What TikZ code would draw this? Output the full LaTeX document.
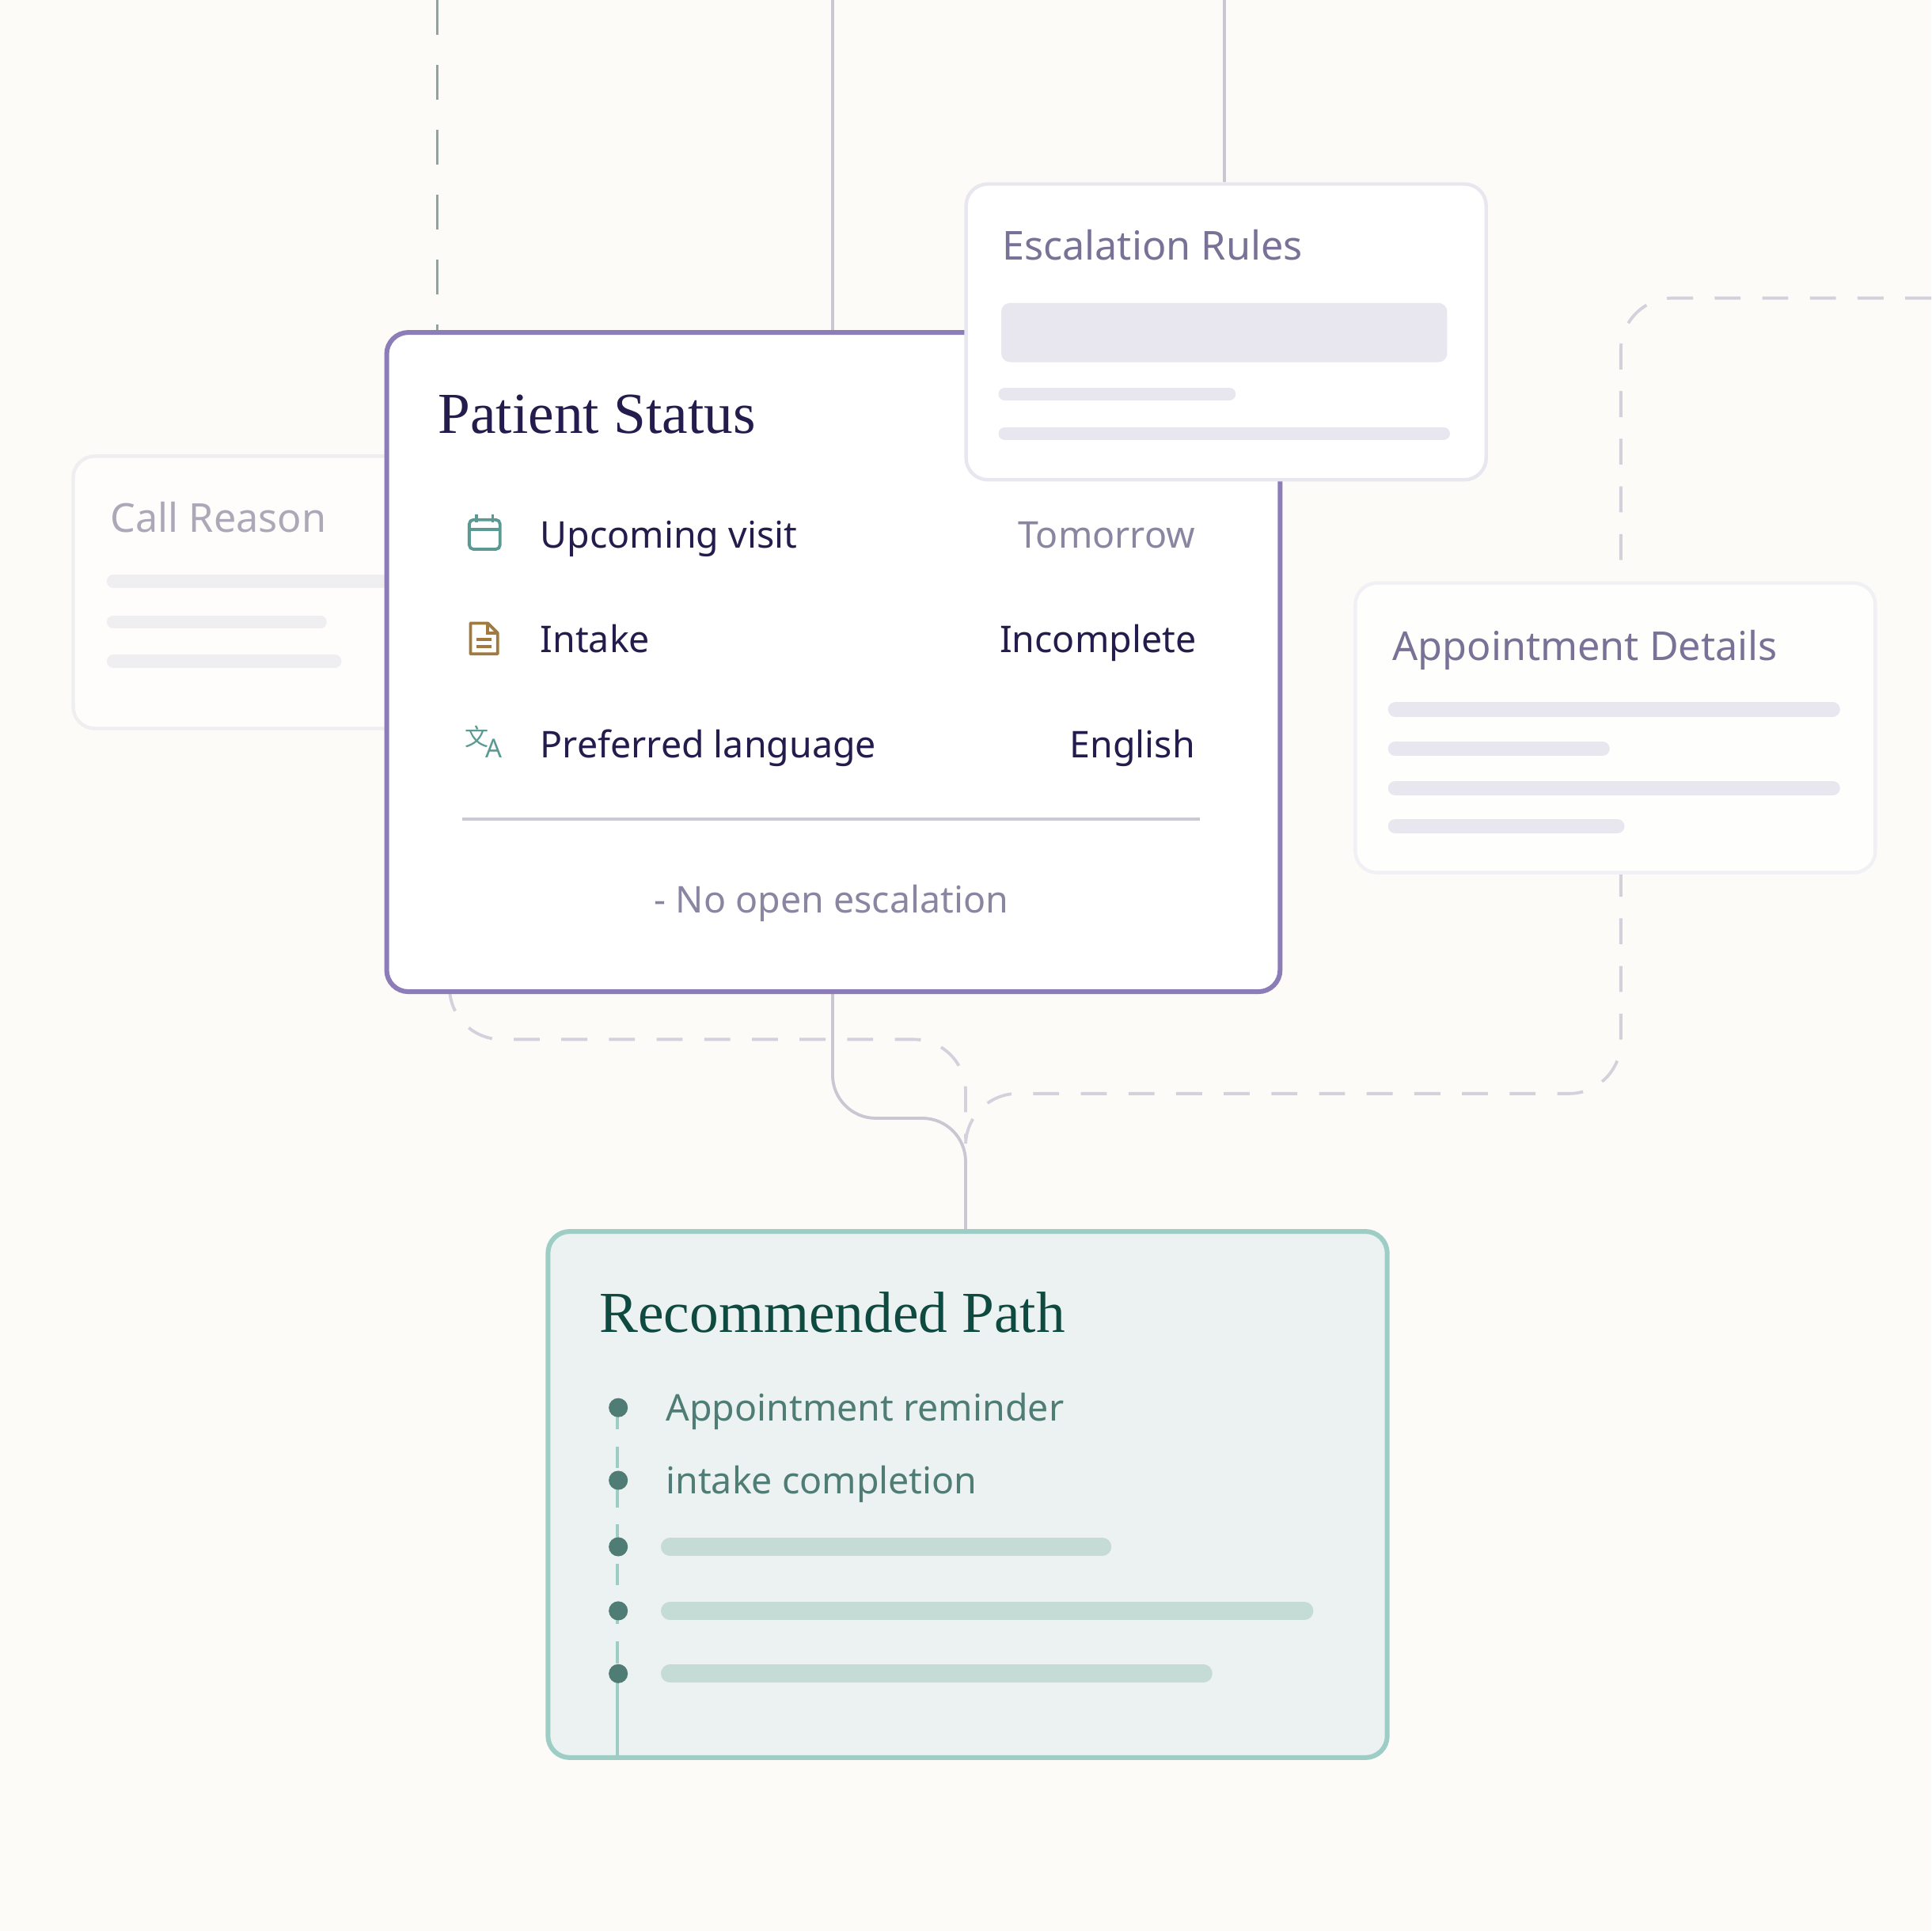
\documentclass[tikz,border=0pt]{standalone}
\usepackage{fontspec}
\setmainfont{Noto Sans}
\newfontfamily\titlefont{Liberation Serif}
\newfontfamily\cjkfont{Noto Sans CJK SC}
\usetikzlibrary{positioning}

\definecolor{bgcol}{HTML}{FCFBF8}
\definecolor{navy}{HTML}{231C4D}
\definecolor{lavtext}{HTML}{7A7197}
\definecolor{greytext}{HTML}{8A85A0}
\definecolor{fadetext}{HTML}{ACA8B8}
\definecolor{barcol}{HTML}{E8E6EE}
\definecolor{fadebar}{HTML}{EFEEF0}
\definecolor{purpleline}{HTML}{8C7DB8}
\definecolor{linkcol}{HTML}{C9C7D2}
\definecolor{dashcol}{HTML}{D3D1DC}
\definecolor{greendash}{HTML}{8FA39F}
\definecolor{pathfill}{HTML}{EBF2F1}
\definecolor{pathline}{HTML}{9ECDC5}
\definecolor{pathtext}{HTML}{4F7C74}
\definecolor{pathtitle}{HTML}{0F4A40}
\definecolor{pathbar}{HTML}{C5DBD6}
\definecolor{iconteal}{HTML}{5B9A93}
\definecolor{iconbrown}{HTML}{A07A3E}

\tikzset{
  card/.style={draw=barcol, fill=white, rounded corners=5pt, line width=0.8pt,
               anchor=north west, inner sep=0pt},
  fadecard/.style={card, draw=fadebar, fill=white!60!bgcol},
  cardtitle/.style={anchor=base west, inner sep=0pt, text=lavtext, font=\fontsize{9.2}{11}\selectfont},
  rowtext/.style={anchor=base west, inner sep=0pt, text=navy, font=\fontsize{8.5}{10}\selectfont},
  rowval/.style={anchor=base east, inner sep=0pt, text=navy, font=\fontsize{8.5}{10}\selectfont},
  bar/.style={line cap=round, line width=#1, draw=barcol},
  link/.style={draw=linkcol, line width=0.7pt, rounded corners=10pt},
  dlink/.style={draw=dashcol, line width=0.7pt, dash pattern=on 6pt off 5pt, rounded corners=12pt},
  dot/.style={circle, fill=pathtext, minimum size=4.4pt, inner sep=0pt},
}

\begin{document}
\begin{tikzpicture}[x=0.01cm, y=-0.01cm]
  \fill[bgcol] (0,0) rectangle (1568,1568);
  \useasboundingbox (0,0) rectangle (1568,1568);

  % top links
  \coordinate (t1) at (355,0);
  \coordinate (t2) at (676,0);
  \coordinate (t3) at (994,0);
  \coordinate (r1) at (1568,242);

  % call reason card (behind)
  \node[fadecard, minimum width=2.72cm, minimum height=2.21cm] (call) at (58,369) {};
  \node[cardtitle, text=fadetext] (callt) at (89,432) {Call Reason};
  \draw[bar=3pt, draw=fadebar] (92,472) -- (310,472);
  \draw[bar=3pt, draw=fadebar] (92,505) -- (260,505);
  \draw[bar=3pt, draw=fadebar] (92,537) -- (272,537);

  % connectors behind cards
  \draw[draw=greendash, line width=0.7pt, dash pattern=on 8pt off 7pt] (t1) -- (355,268);
  \draw[link] (t2) -- (676,268);
  \draw[link] (t3) -- (994,148);
  \draw[dlink] (r1) -- (1316,242) -- (1316,472);
  \draw[dlink] (1316,707) -- (1316,888) -- (784,888) -- (784,925);
  \draw[dlink] (365,803) -- (365,844) -- (784,844) -- (784,925);
  \draw[link] (676,803) -- (676,908) -- (784,908) -- (784,998);

  % patient status card
  \node[card, draw=purpleline, line width=1.1pt, minimum width=7.25cm, minimum height=5.35cm] (pat) at (312,268) {};
  \node[anchor=base west, inner sep=0pt, text=navy, font=\titlefont\fontsize{13.4}{15}\selectfont] (patt) at (355,352) {Patient Status};

  % rows
  \draw[iconteal, line width=0.7pt, rounded corners=1pt] (381,422) rectangle (406,446);
  \draw[iconteal, line width=0.7pt] (381,430) -- (406,430) (387,418) -- (387,424) (400,418) -- (400,424);
  \node[rowtext] (r1t) at (438,445) {Upcoming visit};
  \node[rowval, text=greytext] (r1v) at (971,445) {Tomorrow};

  \draw[iconbrown, line width=0.7pt, line join=round] (382,506) -- (396,506) -- (404,514) -- (404,531) -- (382,531) -- cycle;
  \draw[iconbrown, line width=0.7pt] (396,506) -- (396,514) -- (404,514) (387,519) -- (399,519) (387,525) -- (399,525);
  \node[rowtext] (r2t) at (438,530) {Intake};
  \node[rowval] (r2v) at (972,530) {Incomplete};

  \node[text=iconteal, font=\cjkfont\fontsize{5.5}{6}\selectfont, inner sep=0pt] (ic3a) at (387,598) {文};
  \node[text=iconteal, font=\fontsize{6}{7}\selectfont, inner sep=0pt] (ic3b) at (401,608) {A};
  \node[rowtext] (r3t) at (438,615) {Preferred language};
  \node[rowval] (r3v) at (971,615) {English};

  \draw[draw=barcol!70!greytext, line width=0.8pt] (375,665) -- (974,665);
  \node[anchor=base, inner sep=0pt, text=greytext, font=\fontsize{8.5}{10}\selectfont] (noesc) at (675,741) {- No open escalation};

  % escalation rules card
  \node[card, minimum width=4.22cm, minimum height=2.40cm] (esc) at (783,148) {};
  \node[cardtitle] (esct) at (813,211) {Escalation Rules};
  \fill[barcol, rounded corners=2pt] (813,246) rectangle (1175,294);
  \draw[bar=3pt] (816,320) -- (998,320);
  \draw[bar=3pt] (816,352) -- (1172,352);

  % appointment details card
  \node[card, draw=barcol!60, fill=white!70!bgcol, minimum width=4.22cm, minimum height=2.35cm] (appt) at (1099,472) {};
  \node[cardtitle] (apptt) at (1130,536) {Appointment Details};
  \draw[bar=3.4pt] (1133,576) -- (1488,576);
  \draw[bar=3.4pt] (1133,608) -- (1301,608);
  \draw[bar=3.4pt] (1133,640) -- (1488,640);
  \draw[bar=3.4pt] (1133,671) -- (1313,671);

  % recommended path card
  \node[card, draw=pathline, fill=pathfill, line width=1.1pt, minimum width=6.81cm, minimum height=4.27cm] (rec) at (443,998) {};
  \node[anchor=base west, inner sep=0pt, text=pathtitle, font=\titlefont\fontsize{13.4}{15}\selectfont] (rect) at (486,1082) {Recommended Path};
  \draw[pathline, line width=0.7pt, dash pattern=on 5pt off 4pt] (501,1143) -- (501,1359);
  \draw[pathline, line width=0.7pt] (501,1359) -- (501,1425);
  \foreach \yy/\nm in {1143/d1, 1202/d2, 1256/d3, 1308/d4, 1359/d5}
    \node[dot] (\nm) at (502,\yy) {};
  \node[rowtext, text=pathtext] (p1) at (540,1154) {Appointment reminder};
  \node[rowtext, text=pathtext] (p2) at (540,1213) {intake completion};
  \draw[bar=4.2pt, draw=pathbar] (544,1256) -- (895,1256);
  \draw[bar=4.2pt, draw=pathbar] (544,1308) -- (1059,1308);
  \draw[bar=4.2pt, draw=pathbar] (544,1359) -- (977,1359);
\end{tikzpicture}
\end{document}
